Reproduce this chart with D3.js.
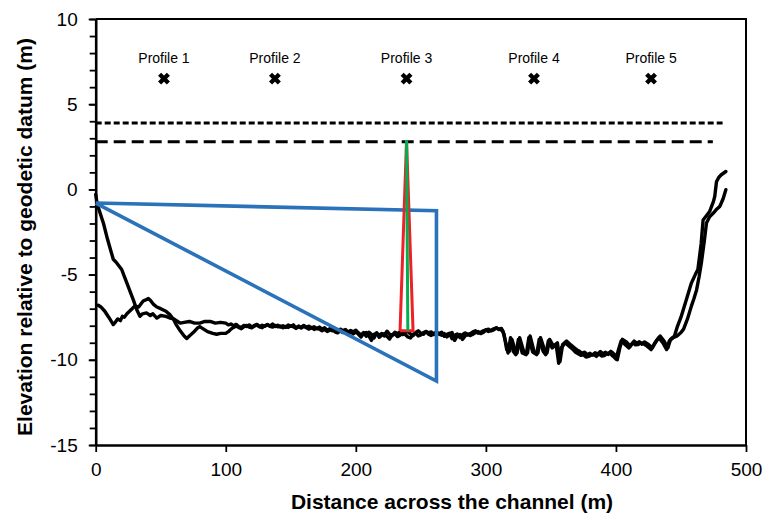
<!DOCTYPE html>
<html>
<head>
<meta charset="utf-8">
<script src="https://cdn.jsdelivr.net/npm/d3@7"></script>
<style>
  html, body { margin: 0; padding: 0; background: #fff; }
  svg { display: block; font-family: "Liberation Sans", Arial, sans-serif; }
</style>
</head>
<body>
<svg id="chart" width="765" height="515"></svg>
<script>
// Surveyed cross-section profiles: [distance (m), elevation (m)]
const surveyA = [
  [0,-0.3],[1,-0.8],[3,-1.3],[6,-2.0],[9,-2.9],[12,-3.7],[13.5,-4.1],[16,-4.3],[20,-4.7],[22,-5.1],
  [24,-5.5],[27,-6.1],[29,-6.5],[31.5,-7.05],[34,-7.45],[36,-7.3],[39,-7.25],[42,-7.4],[44,-7.3],[47,-7.55],
  [50,-7.4],[54,-7.45],[57,-7.55],[60,-7.6],[63,-7.75],[65,-7.85],[68,-7.8],[72,-7.75],[76,-7.85],[80,-7.85],
  [84,-7.75],[88,-7.75],[92,-7.85],[96,-7.8],
  [100,-7.85],[102,-7.95],[104,-7.9],[106,-8.0],[108,-7.92],[110,-8.05],[112,-8.1],[114,-7.98],[116,-8.05],[118,-7.95],
  [120,-8.08],[122,-7.98],[124,-7.92],[126,-8.06],[128,-7.97],[130,-8.04],[132,-7.93],[134,-8.02],[136,-7.9],[138,-8.05],
  [140,-7.97],[142,-8.08],[144,-8.0],[146,-8.1],[148,-7.96],[150,-8.04],[152,-7.95],[154,-8.12],[156,-8.02],[158,-8.1],
  [160,-7.98],[162,-8.08],[164,-8.03],[166,-8.14],[168,-8.06],[170,-8.18],[172,-8.08],[174,-8.2],[176,-8.12],[178,-8.26],
  [180,-8.18],[182,-8.3],[184,-8.22],[186,-8.34],[188,-8.2],[190,-8.28],[192,-8.22],[194,-8.38],[196,-8.28],[198,-8.36],
  [200,-8.26],[202,-8.42],[204,-8.55],[206,-8.4],[208,-8.62],[210,-8.38],[212,-8.5],[214,-8.72],[216,-8.42],[218,-8.56],
  [220,-8.45],[222,-8.6],[224,-8.32],[226,-8.5],[228,-8.58],[230,-8.38],[232,-8.46],[234,-8.36],[236,-8.52],[238,-8.4],
  [240,-8.34],[242,-8.48],[244,-8.58],[246,-8.4],[248,-8.3],[250,-8.44],[252,-8.5],[254,-8.34],[256,-8.42],[258,-8.36],
  [260,-8.52],[262,-8.4],[264,-8.46],[266,-8.38],[268,-8.62],[270,-8.5],[272,-8.44],[274,-8.76],[276,-8.56],[278,-8.48],
  [280,-8.7],[282,-8.52],[284,-8.42],[286,-8.55],[288,-8.46],[290,-8.36],[292,-8.3],[294,-8.44],[296,-8.38],[298,-8.3],
  [300,-8.24],[302,-8.34],[304,-8.28],[306,-8.18],[308,-8.12],[310,-8.22],[312,-8.16],
  [314,-8.5],[316,-9.4],[318,-9.5],
  [320,-8.8],[322,-9.3],[324,-9.6],[326,-8.7],[329,-9.5],[332,-9.6],[334,-8.6],[337,-9.5],[340,-9.6],[342,-8.7],
  [345,-9.4],[347,-9.6],[349,-8.8],[352,-9.2],[355,-9.0],[357,-10.1],[359,-9.1],[362,-8.9],[365,-9.1],[368,-9.3],
  [370,-9.42],[372,-9.5],[374,-9.62],[376,-9.55],[378,-9.7],[380,-9.62],[382,-9.72],[384,-9.58],[386,-9.66],[388,-9.52],
  [390,-9.64],[392,-9.56],[394,-9.68],[396,-9.5],[398,-9.62],[399,-9.7],[401,-10.0],[403,-9.3],
  [405,-8.8],[408,-8.95],[411,-9.2],[414,-8.9],[416,-9.04],[418,-8.94],[420,-9.08],[422,-8.95],[425,-9.1],[428,-9.3],[431,-8.9],[434,-8.6],
  [437,-8.9],[440,-9.3],[442,-8.8],[445,-8.6],[447,-8.1],[450,-7.5],[454,-6.5],[458,-5.5],[461,-5.0],[463,-4.7],
  [465.5,-3.2],[467,-1.8],[470,-1.5],[472,-1.3],[475,-0.7],[476,-0.4],[477.3,0.45],[479,0.7],[481,0.86],[484.5,1.05]
];

const surveyB = [
  [2,-6.8],[4,-6.9],[7,-7.15],[10,-7.5],[13.5,-7.93],[15,-7.8],[17,-7.6],[19,-7.7],[20.5,-7.45],[22,-7.5],
  [24,-7.3],[26,-7.15],[28,-7.0],[30,-6.85],[33,-6.9],[36.5,-6.55],[38,-6.5],[40.5,-6.4],[42,-6.5],[44.5,-6.75],
  [47,-6.9],[50,-7.0],[54,-7.15],[57,-7.35],[60,-7.65],[62,-7.95],[65,-8.3],[68,-8.6],[70,-8.75],[72,-8.6],
  [75,-8.4],[78,-8.15],[80,-8.05],[83,-8.2],[86,-8.35],[90,-8.45],[93,-8.5],[96,-8.45],
  [100,-8.45],[102,-8.35],[104,-8.2],[106,-8.1],[108,-8.02],[110,-8.1],[112,-8.18],[114,-8.06],[116,-7.98],[118,-8.08],
  [120,-8.12],[122,-8.02],[124,-7.96],[126,-8.06],[128,-8.12],[130,-8.0],[132,-7.94],[134,-8.04],[136,-8.08],[138,-7.98],
  [140,-8.06],[142,-8.02],[144,-8.12],[146,-8.04],[148,-8.1],[150,-8.0],[152,-8.06],[154,-8.16],[156,-8.06],[158,-8.14],
  [160,-8.04],[162,-8.12],[164,-8.2],[166,-8.1],[168,-8.22],[170,-8.14],[172,-8.2],[174,-8.3],[176,-8.22],[178,-8.34],
  [180,-8.26],[182,-8.2],[184,-8.36],[186,-8.42],[188,-8.3],[190,-8.4],[192,-8.32],[194,-8.46],[196,-8.38],[198,-8.48],
  [200,-8.36],[202,-8.5],[204,-8.66],[206,-8.46],[208,-8.4],[210,-8.6],[212,-8.86],[214,-8.5],[216,-8.44],[218,-8.68],
  [220,-8.56],[222,-8.46],[224,-8.62],[226,-8.78],[228,-8.52],[230,-8.48],[232,-8.64],[234,-8.56],[236,-8.44],[238,-8.52],
  [240,-8.66],[242,-8.72],[244,-8.5],[246,-8.44],[248,-8.6],[250,-8.54],[252,-8.4],[254,-8.34],[256,-8.5],[258,-8.58],
  [260,-8.44],[262,-8.38],[264,-8.5],[266,-8.56],[268,-8.46],[270,-8.66],[272,-8.5],[274,-8.4],[276,-8.86],[278,-8.6],
  [280,-8.52],[282,-8.8],[284,-8.6],[286,-8.48],[288,-8.58],[290,-8.5],[292,-8.4],[294,-8.34],[296,-8.46],[298,-8.4],
  [300,-8.26],[302,-8.2],[304,-8.3],[306,-8.24],[308,-8.14],[310,-8.18],[312,-8.26],[313,-8.3],
  [315,-8.9],[317,-9.6],[319,-8.7],[321,-9.5],[323,-9.7],[325,-8.8],[328,-9.6],[331,-9.7],
  [333,-8.7],[336,-9.55],[339,-9.7],[341,-8.8],[344,-9.5],[346,-9.7],[348,-8.9],[351,-9.3],[354,-9.1],[356,-10.2],
  [358,-9.3],[361,-9.0],[364,-9.2],[367,-9.4],[369,-9.56],[371,-9.65],[373,-9.74],[375,-9.7],[377,-9.84],[379,-9.8],
  [381,-9.72],[383,-9.7],[385,-9.8],[387,-9.65],[389,-9.78],[391,-9.75],[393,-9.64],[395,-9.6],[397,-9.74],[398,-9.8],
  [400,-9.95],[402,-9.4],[404,-8.9],[407,-9.1],[410,-9.3],[413,-9.0],[415,-9.12],[417,-9.1],[419,-9.0],[421,-9.05],
  [424,-9.2],[427,-9.4],[430,-9.0],[433,-8.7],[436,-9.0],[439,-9.4],[441,-8.9],[444,-8.7],[447,-8.6],[450,-8.4],
  [452,-8.2],[455,-7.6],[458,-6.85],[460,-6.4],[462,-5.9],[464,-5.1],[465.7,-4.3],[468,-3.0],[469.6,-1.97],[472,-1.6],
  [474.7,-1.4],[477,-1.2],[479.8,-1.0],[481,-0.8],[482.4,-0.55],[484.5,-0.02]
];

// Schematic cross-sections
const blueOutline = [[0,-0.8],[262,-1.25],[262,-11.25],[0,-0.8]];
const redOutline = [[234,-8.3],[239,2.9],[244,-8.3],[234,-8.3]];
const greenLine = [[239,2.9],[240,-8.3]];

// Reference water levels
const upperLevel = { y: 3.9, x0: 0, x1: 482 };
const lowerLevel = { y: 2.8, x0: 0, x1: 474.5 };

// Profile locations
const profileNames = ["Profile 1","Profile 2","Profile 3","Profile 4","Profile 5"];
const profileX = [52.5, 137.8, 239, 337, 427];
const profileY = 6.5;

// Axis ticks
const xTicks = [0,100,200,300,400,500];
const yMajorTicks = [-15,-10,-5,0,5,10];
const yMinorTicks = d3.range(-15, 11, 1);

const svg = d3.select("#chart");
const margin = { left: 95.7, right: 19, top: 19, bottom: 70 };
const W = 765, H = 515;

const x = d3.scaleLinear().domain([0, 500]).range([margin.left, W - margin.right]);
const y = d3.scaleLinear().domain([-15, 10]).range([H - margin.bottom, margin.top]);

const line = d3.line().x(d => x(d[0])).y(d => y(d[1]));
const plain = d => String(d);

// Frame: top and right edges
svg.append("path")
  .attr("d", `M${x(0)},${y(10)}H${x(500)}V${y(-15)}`)
  .attr("fill", "none").attr("stroke", "#000").attr("stroke-width", 2);

// Y axis: minor ticks every 1 m, labels every 5 m
const yMinor = svg.append("g").attr("transform", `translate(${x(0)},0)`)
  .call(d3.axisLeft(y).tickValues(yMinorTicks).tickSize(6).tickFormat(""));
yMinor.select(".domain").remove();
yMinor.selectAll(".tick line").attr("stroke-width", 1.8);

const yAxis = svg.append("g").attr("transform", `translate(${x(0)},0)`)
  .call(d3.axisLeft(y).tickValues(yMajorTicks).tickFormat(plain).tickSize(7).tickPadding(11).tickSizeOuter(0));
yAxis.select(".domain").attr("stroke-width", 2.6);
yAxis.selectAll(".tick line").attr("stroke-width", 1.8);
yAxis.selectAll(".tick text")
  .attr("font-size", 19).attr("font-family", "Liberation Sans, Arial, sans-serif").attr("fill", "#000");

// X axis
const xAxis = svg.append("g").attr("transform", `translate(0,${y(-15)})`)
  .call(d3.axisBottom(x).tickValues(xTicks).tickFormat(plain).tickSize(7).tickPadding(11).tickSizeOuter(0));
xAxis.select(".domain").attr("stroke-width", 2.6);
xAxis.selectAll(".tick line").attr("stroke-width", 1.8);
xAxis.selectAll(".tick text")
  .attr("font-size", 19).attr("font-family", "Liberation Sans, Arial, sans-serif").attr("fill", "#000");

// Axis titles
svg.append("text")
  .attr("x", 452).attr("y", 509)
  .attr("text-anchor", "middle")
  .attr("font-size", 21).attr("font-weight", "bold")
  .text("Distance across the channel (m)");

svg.append("text")
  .attr("transform", `translate(32,237) rotate(-90)`)
  .attr("text-anchor", "middle")
  .attr("font-size", 21).attr("font-weight", "bold")
  .text("Elevation relative to geodetic datum (m)");

// Reference levels
svg.append("line")
  .attr("x1", x(upperLevel.x0)).attr("x2", x(upperLevel.x1))
  .attr("y1", y(upperLevel.y)).attr("y2", y(upperLevel.y))
  .attr("stroke", "#000").attr("stroke-width", 3).attr("stroke-dasharray", "6,3");
svg.append("line")
  .attr("x1", x(lowerLevel.x0)).attr("x2", x(lowerLevel.x1))
  .attr("y1", y(lowerLevel.y)).attr("y2", y(lowerLevel.y))
  .attr("stroke", "#000").attr("stroke-width", 3).attr("stroke-dasharray", "12,6");

// Surveyed profiles
[surveyA, surveyB].forEach(s => {
  svg.append("path").datum(s).attr("d", line)
    .attr("fill", "none").attr("stroke", "#000").attr("stroke-width", 3.4)
    .attr("stroke-linejoin", "round").attr("stroke-linecap", "round");
});

// Schematic sections
svg.append("path").datum(blueOutline).attr("d", line)
  .attr("fill", "none").attr("stroke", "#2A72BA").attr("stroke-width", 3.6)
  .attr("stroke-linejoin", "miter");
svg.append("path").datum(redOutline).attr("d", line)
  .attr("fill", "none").attr("stroke", "#EC2228").attr("stroke-width", 3)
  .attr("stroke-linejoin", "miter");
svg.append("path").datum(greenLine).attr("d", line)
  .attr("fill", "none").attr("stroke", "#00B04F").attr("stroke-width", 3);

// Profile markers and labels
const prof = svg.append("g");
const marker = d3.symbol(d3.symbolX, 52);
profileX.forEach((px, i) => {
  prof.append("path")
    .attr("transform", `translate(${x(px)},${y(profileY)})`)
    .attr("d", marker())
    .attr("fill", "none").attr("stroke", "#000").attr("stroke-width", 4.4);
  prof.append("text")
    .attr("x", x(px)).attr("y", y(profileY) - 15.5)
    .attr("text-anchor", "middle")
    .attr("font-size", 14).attr("fill", "#000")
    .text(profileNames[i]);
});
</script>
</body>
</html>
